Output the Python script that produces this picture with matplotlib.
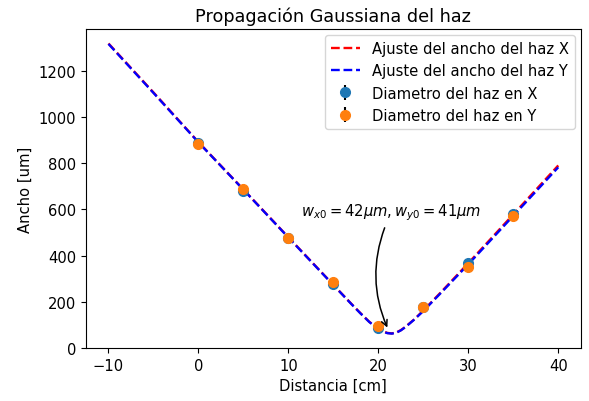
import matplotlib.pyplot as plt

# =========================
# Data
# =========================
distancia = [0, 5, 10, 15, 20, 25, 30, 35]
diam_x = [886, 680, 478, 275, 88, 176, 368, 581]
diam_y = [884, 690, 476, 285, 95, 176, 352, 570]
err_x = [8, 8, 8, 8, 8, 8, 8, 8]
err_y = [8, 8, 8, 8, 8, 8, 8, 8]

fit_z = [-10, -5, 0, 5, 10, 15, 17, 18, 19, 20, 20.5, 21, 21.5,
         22, 22.5, 23, 24, 25, 27, 30, 35, 40]
fit_x = [1318, 1106, 891, 686, 479, 273, 191, 151, 113, 83, 72, 65, 63,
         67, 77, 91, 124, 162, 243, 367, 578, 790]
fit_y = [1316, 1104, 890, 685, 478, 272, 190, 150, 112, 82, 71, 64, 62,
         66, 76, 90, 123, 160, 240, 362, 572, 782]

plt.rcParams["font.size"] = 10.6

# =========================
# Plot
# =========================
fig = plt.figure(figsize=(5.89, 4.02), dpi=100)
ax = fig.add_axes([0.146, 0.132, 0.84, 0.793])

ax.plot(fit_z, fit_x, "r--", lw=1.7, label="Ajuste del ancho del haz X")
ax.plot(fit_z, fit_y, "b--", lw=1.7, label="Ajuste del ancho del haz Y")

ax.errorbar(distancia, diam_x, yerr=err_x, fmt="o", ms=7, color="tab:blue",
            ecolor="k", label="Diametro del haz en X")
ax.errorbar(distancia, diam_y, yerr=err_y, fmt="o", ms=7, color="tab:orange",
            ecolor="k", label="Diametro del haz en Y")

ax.text(21.4, 591, r"$w_{x0} = 42\mu m, w_{y0} = 41\mu m$",
        ha="center", va="center", fontsize=10.6)
ax.annotate("", xy=(21.0, 88), xytext=(20.7, 520),
            arrowprops=dict(arrowstyle="->", color="k", lw=1.1,
                            connectionstyle="arc3,rad=0.2",
                            shrinkA=0, shrinkB=0))

ax.set_ylim(0, 1380)
ax.set_xlabel("Distancia [cm]")
ax.set_ylabel("Ancho [um]")
ax.set_title("Propagación Gaussiana del haz", fontsize=12.7)
ax.legend(loc="upper right", borderaxespad=0.4)

fig.savefig("out.png")
